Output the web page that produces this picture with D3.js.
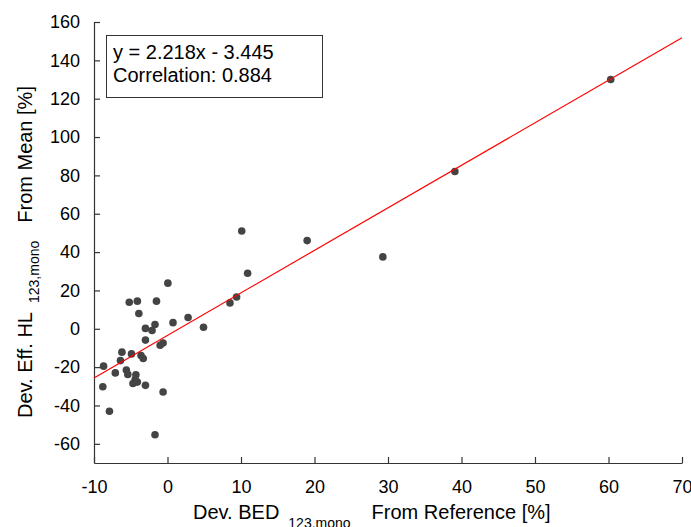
<!DOCTYPE html>
<html>
<head>
<meta charset="utf-8">
<script src="https://cdn.jsdelivr.net/npm/d3@7"></script>
<style>
  body { margin: 0; background: #fff; }
  svg text { font-family: "Liberation Sans", Arial, sans-serif; fill: #000; }
</style>
</head>
<body>
<svg id="svg" width="691" height="527"></svg>
<script>
// values
var devBED = [60.3, 39.1, 29.3, 19.0, 10.1, 10.9, 9.4, 8.5, 4.9, 2.8, 0.75, 0.05,
  -5.2, -4.1, -1.5, -3.9, -3.0, -1.7, -2.1, -3.0, -1.0, -0.6, -6.2, -4.9, -3.6, -3.3,
  -6.4, -8.7, -7.1, -5.6, -5.4, -4.3, -4.4, -4.7, -4.1, -3.0, -8.8, -0.6, -7.9, -1.7];
var devHL = [130, 82, 37.5, 46, 51, 29, 16.6, 13.5, 0.8, 5.9, 3.2, 23.8,
  13.8, 14.4, 14.4, 8, 0.2, 2.2, -0.9, -5.9, -8.6, -7.4, -12.2, -13.1, -13.9, -15.5,
  -16.6, -19.5, -23, -21.5, -23.8, -24, -26.5, -28.5, -27.8, -29.5, -30.2, -33, -43, -55.3];
var xTicks = [-10, 0, 10, 20, 30, 40, 50, 60, 70];
var yTicks = [-60, -40, -20, 0, 20, 40, 60, 80, 100, 120, 140, 160];
var slope = 2.218, intercept = -3.445, correlation = 0.884;

var svg = d3.select("#svg");
var plotLeft = 94, plotRight = 682, plotTop = 22, plotBottom = 463;

var x = d3.scaleLinear().domain([-10, 70]).range([plotLeft, plotRight]);
var y = d3.scaleLinear().domain([-70, 160]).range([plotBottom, plotTop]);
var fmt = function(d){ return String(d); };

//axes, ticks pointing inwards
var xAxis = svg.append("g")
  .attr("transform", "translate(0," + plotBottom + ")")
  .call(d3.axisBottom(x).tickValues(xTicks).tickFormat(fmt).tickSizeInner(-6).tickSizeOuter(0).tickPadding(17));
var yAxis = svg.append("g")
  .attr("transform", "translate(" + plotLeft + ",0)")
  .call(d3.axisLeft(y).tickValues(yTicks).tickFormat(fmt).tickSizeInner(-6).tickSizeOuter(0).tickPadding(14));

[xAxis, yAxis].forEach(function(g){
  g.selectAll("path, line").attr("stroke", "#333").attr("stroke-width", 1.2);
  g.selectAll("text").attr("font-size", 18).attr("font-family", "Liberation Sans, Arial, sans-serif").attr("fill", "#000");
});

//points
svg.append("g").selectAll("circle")
  .data(devBED)
  .enter().append("circle")
  .attr("cx", function(d){ return x(d); })
  .attr("cy", function(d, i){ return y(devHL[i]); })
  .attr("r", 3.8)
  .attr("fill", "#444");

//fit line
svg.append("line")
  .attr("x1", x(-10)).attr("y1", y(slope * -10 + intercept))
  .attr("x2", x(70)).attr("y2", y(slope * 70 + intercept))
  .attr("stroke", "#ff0000")
  .attr("stroke-width", 1.2);

//legend box
svg.append("rect")
  .attr("x", 106.5).attr("y", 35.5)
  .attr("width", 216).attr("height", 62)
  .attr("fill", "#fff").attr("stroke", "#333").attr("stroke-width", 1);
svg.append("text").attr("x", 113).attr("y", 59).attr("font-size", 20)
  .text("y = " + slope + "x - " + Math.abs(intercept));
svg.append("text").attr("x", 113).attr("y", 82).attr("font-size", 20)
  .text("Correlation: " + correlation);

//axis titles
var xt = svg.append("text").attr("x", 193).attr("y", 519).attr("font-size", 20);
xt.append("tspan").text("Dev. BED");
xt.append("tspan").attr("dx", 9).attr("dy", 9).attr("font-size", 14).text("123,mono");
xt.append("tspan").attr("dx", 21).attr("dy", -9).text("From Reference [%]");

var yt = svg.append("text").attr("transform", "translate(32,418) rotate(-90)").attr("font-size", 20);
yt.append("tspan").text("Dev. Eff. HL");
yt.append("tspan").attr("dx", 9).attr("dy", 7).attr("font-size", 14).text("123,mono");
yt.append("tspan").attr("dx", 18).attr("dy", -7).text("From Mean [%]");
</script>
</body>
</html>
